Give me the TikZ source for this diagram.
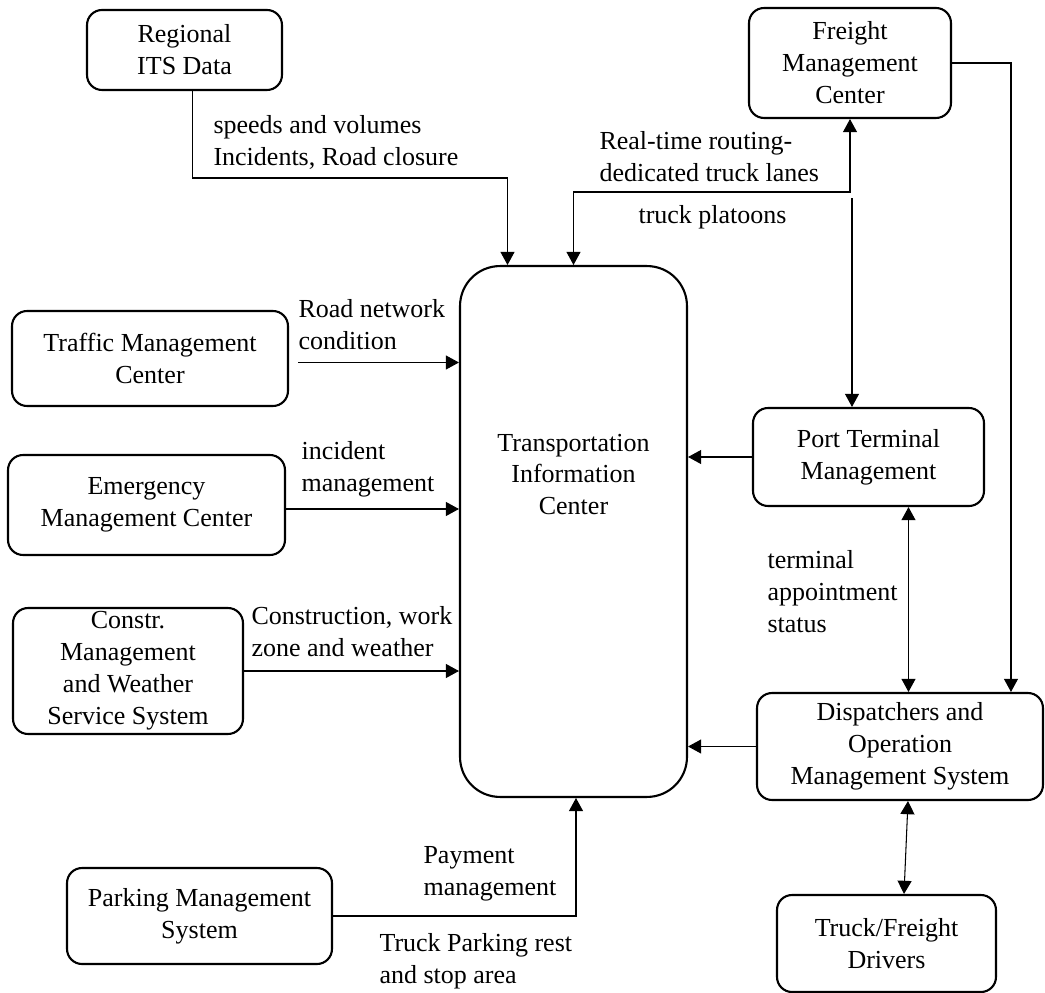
\documentclass[tikz,border=0pt]{standalone}
\usepackage{fontspec}
\setmainfont{Liberation Serif}
\usetikzlibrary{arrows.meta,calc}

\begin{document}
\begin{tikzpicture}[x=0.02cm, y=-0.02cm, line width=0.6pt,
	box/.style={draw, line width=1.2pt, rounded corners=0.3cm, align=center, inner sep=0pt},
	flowLabel/.style={align=left, anchor=west, inner sep=0pt},
	arr/.style={-{Triangle[length=7.5pt,width=8pt]}},
	biArr/.style={{Triangle[length=7.5pt,width=8pt]}-{Triangle[length=7.5pt,width=8pt]}}]
	\fontsize{14.8}{18.2}\selectfont
	
	\useasboundingbox (0,0) rectangle (1045,993);
	
	% draw the boxes
	\node[box, minimum width=3.9cm, minimum height=1.6cm] (its) at (184.5,50) {Regional\\ITS Data};
	\node[box, minimum width=4.04cm, minimum height=2.2cm] (frt) at (850,63) {Freight\\Management\\Center};
	\node[box, rounded corners=0.8cm, minimum width=4.54cm, minimum height=10.62cm,
		label={[align=center, yshift=1.14cm]center:Transportation\\Information\\Center}] (tic) at (573.5,531.5) {};
	\node[box, minimum width=5.52cm, minimum height=1.9cm] (tmc) at (150,358.5) {Traffic Management\\Center};
	\node[box, minimum width=5.54cm, minimum height=2cm] (emc) at (146.5,505) {Emergency\\Management Center};
	\node[box, minimum width=4.6cm, minimum height=2.52cm] (cws) at (128,671) {Constr.\\Management\\and Weather\\Service System};
	\node[box, minimum width=4.62cm, minimum height=1.96cm] (ptm) at (868.5,457) {Port Terminal\\Management};
	\node[box, minimum width=5.72cm, minimum height=2.14cm] (dom) at (900,746.5) {Dispatchers and\\Operation\\Management System};
	\node[box, minimum width=5.3cm, minimum height=1.92cm] (pms) at (199.5,916) {Parking Management\\System};
	\node[box, minimum width=4.38cm, minimum height=1.94cm] (tfd) at (886.5,943.5) {Truck/Freight\\Drivers};
	
	% draw the connectors
	\draw[arr] ([xshift=0.16cm]its.south) |- ([xshift=-1.32cm,yshift=1.74cm]tic.north) -- ([xshift=-1.32cm]tic.north);
	\draw[biArr] (tic.north) -- ++(0,-73) -| (frt.south);
	\coordinate (frtDrop) at ($(frt.south)+(2,79)$);
	\draw[arr] (frtDrop) -- (frtDrop |- ptm.north);
	\draw[arr] (frt.east) -| ([xshift=2.22cm]dom.north);
	
	\coordinate (tmcOut) at ($(tmc.east)+(9,4)$);
	\draw[arr] (tmcOut) -- (tmcOut -| tic.west);
	\coordinate (emcOut) at ($(emc.east)+(0,4)$);
	\draw[arr] (emcOut) -- (emcOut -| tic.west);
	\draw[arr] (cws.east) -- (cws.east -| tic.west);
	\draw[arr] (ptm.west) -- (ptm.west -| tic.east);
	\draw[arr] (dom.west) -- (dom.west -| tic.east);
	\draw[arr] (pms.east) -| ([xshift=0.05cm]tic.south);
	
	\coordinate (ptmDown) at ($(ptm.south)+(40,0)$);
	\draw[biArr] (ptmDown) -- (ptmDown |- dom.north);
	\draw[biArr] ([xshift=0.16cm]dom.south) -- ([xshift=0.35cm]tfd.north);
	
	% draw the flow labels
	\node[flowLabel] (lblIts) at (213,142) {speeds and volumes\\Incidents, Road closure};
	\node[flowLabel] (lblRoute) at (599,157) {Real-time routing-\\dedicated truck lanes};
	\node[flowLabel] (lblPlatoon) at (638,217) {truck platoons};
	\node[flowLabel] (lblTmc) at (298,325) {Road network\\condition};
	\node[flowLabel] (lblEmc) at (301,469) {incident\\management};
	\node[flowLabel] (lblCws) at (251,632) {Construction, work\\zone and weather};
	\node[flowLabel] (lblPtm) at (767,592) {terminal\\appointment\\status};
	\node[flowLabel] (lblPay) at (423,874) {Payment\\management};
	\node[flowLabel] (lblPark) at (379,961) {Truck Parking rest\\and stop area};
\end{tikzpicture}
\end{document}
